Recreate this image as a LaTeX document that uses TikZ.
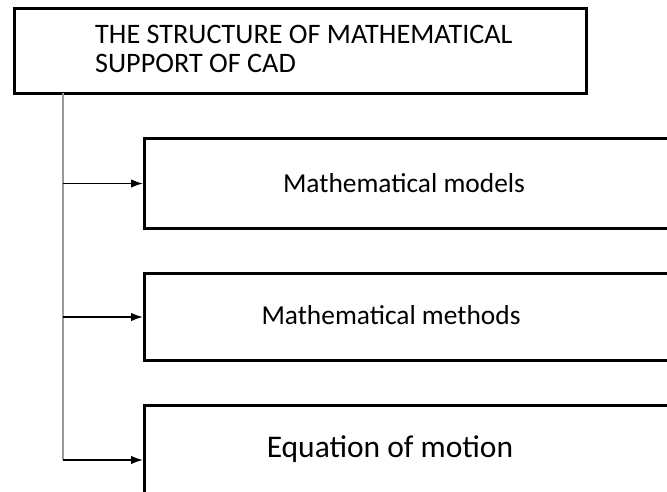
\documentclass[tikz,border=0pt]{standalone}
\usepackage{fontspec}
\setmainfont{Carlito}
\usetikzlibrary{arrows.meta, positioning}
\definecolor{trunkgray}{gray}{0.6}
\tikzset{
    headbox/.style={rectangle, draw=black, line width=3pt, minimum width=572pt, minimum height=85pt, inner sep=0pt},
    itembox/.style={rectangle, draw=black, line width=3pt, minimum width=560pt, inner sep=0pt, anchor=north west},
    headtext/.style={font=\fontsize{28.2}{29}\selectfont, align=left, anchor=west, inner sep=0pt},
    itemtext/.style={font=\fontsize{27.4}{30}\selectfont, inner sep=0pt},
    bigtext/.style={font=\fontsize{31.5}{36}\selectfont, inner sep=0pt},
    trunkline/.style={draw=trunkgray, line width=2.5pt},
    branch/.style={-{Latex[length=12pt, width=8.5pt]}, line width=1.6pt}
}

\begin{document}
\begin{tikzpicture}[x=1pt, y=-1pt]
    \useasboundingbox (0,0) rectangle (667,491);
    \clip (0,0) rectangle (667,491);
    \node[headbox] (head) at (300,50.5) {};
    \node[headtext] (headtxt) at (95,49) {THE STRUCTURE OF MATHEMATICAL\\SUPPORT OF CAD};

    \node[itembox, minimum height=90pt] (models) at (143,137) {};
    \node[itembox, minimum height=87pt] (methods) at (143,272) {};
    \node[itembox, minimum height=112pt] (motion) at (143,404) {};
    \node[itemtext] (modelstxt) at (404,183) {Mathematical models};
    \node[itemtext] (methodstxt) at (391,315) {Mathematical methods};
    \node[bigtext] (motiontxt) at (390,449) {Equation of motion};

    % trunk from the heading down to the last branch
    \coordinate (top) at (63,93);
    \coordinate (bottom) at (63,460);
    \draw[trunkline] (top) -- (bottom);
    \draw[branch] (top |- models.west) -- (models.west);
    \draw[branch] (top |- methods.west) -- (methods.west);
    \draw[branch] (bottom) -- (bottom -| motion.west);
\end{tikzpicture}
\end{document}
